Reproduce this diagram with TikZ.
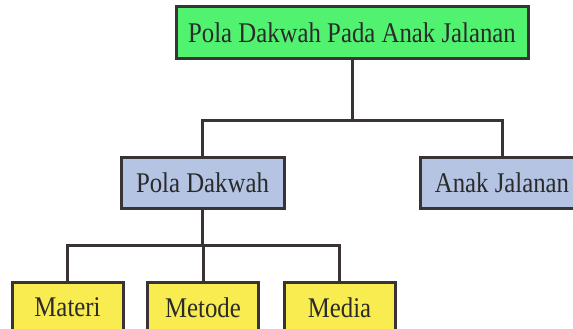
\documentclass[tikz,border=0pt]{standalone}
\usepackage{fontspec}
\setmainfont{Liberation Serif}[FakeStretch=0.87]
\definecolor{lineC}{HTML}{3A3336}
\definecolor{greenC}{HTML}{50F270}
\definecolor{blueC}{HTML}{B4C4E2}
\definecolor{yellowC}{HTML}{F8EC50}
\definecolor{textC}{HTML}{2A2A2A}
\tikzset{
  box/.style={draw=lineC, line width=3pt, text=textC, inner sep=0pt,
    font=\fontsize{28.5}{30}\selectfont, anchor=center},
  link/.style={draw=lineC, line width=3pt}
}
\begin{document}
\begin{tikzpicture}[x=1pt,y=-1pt]
\useasboundingbox (0,0) rectangle (573,329);
\clip (0,0) rectangle (573,329);
\node[box, fill=greenC, minimum width=352pt, minimum height=52pt] (top) at (352,33) {Pola Dakwah Pada Anak Jalanan};
\node[box, fill=blueC, minimum width=163pt, minimum height=51pt] (pd) at (202.5,182.5) {Pola Dakwah};
\node[box, fill=blueC, minimum width=163pt, minimum height=51pt] (aj) at (502,182.5) {Anak Jalanan};
\node[box, fill=yellowC, minimum width=111pt, minimum height=51pt] (mat) at (67.5,307.5) {Materi};
\node[box, fill=yellowC, minimum width=111pt, minimum height=51pt] (met) at (203,307.5) {Metode};
\node[box, fill=yellowC, minimum width=111pt, minimum height=51pt] (med) at (339.5,307.5) {Media};
\coordinate (b1) at (352,120);
\coordinate (b2) at (202.5,245);
\draw[link] (top.south) -- (b1);
\draw[link] (pd.north) |- (b1) -| (aj.north);
\draw[link] (pd.south) -- (b2);
\draw[link] (mat.north) |- (b2) -| (med.north);
\draw[link] (met.north) -- (met.north |- b2);
\end{tikzpicture}
\end{document}
